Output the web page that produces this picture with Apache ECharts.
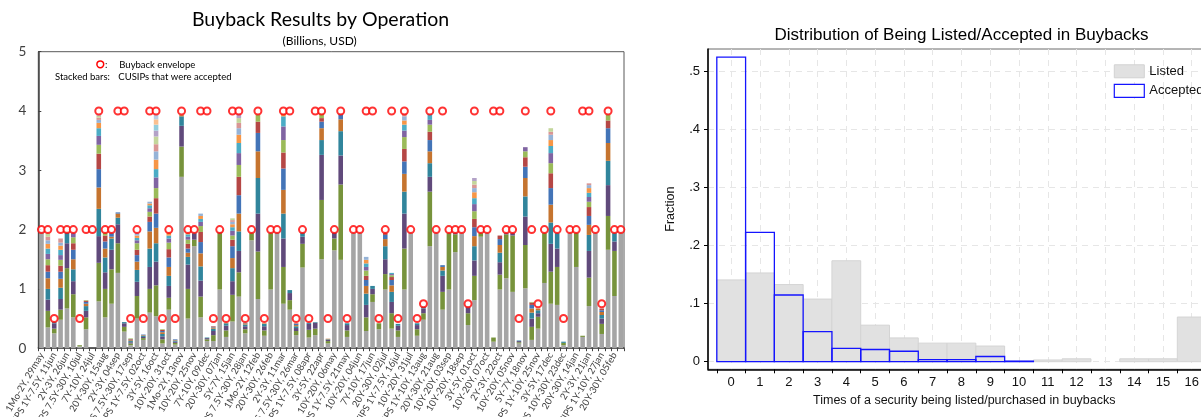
<!DOCTYPE html>
<html><head><meta charset="utf-8">
<script src="https://cdn.jsdelivr.net/npm/echarts@6/dist/echarts.min.js"></script>
<style>html,body{margin:0;padding:0;background:#fff}#c{width:1201px;height:417px}</style>
</head><body><div id="c"></div>
<script>
// ---------- Left chart: Buyback results by operation ----------
const operationLabels = ["1Mo-2Y, 29may","TIPS 1Y-7.5Y, 11jun","2Y-3Y, 26jun","TIPS 7.5Y-30Y, 10jul","7Y-10Y, 24jul","20Y-30Y, 15aug","2Y-3Y, 04sep","TIPS 7.5Y-30Y, 17sep","TIPS 1Y-7.5Y, 02oct","3Y-5Y, 16oct","10Y-20Y, 31oct","1Mo-2Y, 13nov","10Y-20Y, 25nov","7Y-10Y, 09dec","20Y-30Y, 07jan","5Y-7Y, 15jan","TIPS 7.5Y-30Y, 28jan","1Mo-2Y, 12feb","20Y-30Y, 26feb","2Y-3Y, 11mar","TIPS 7.5Y-30Y, 26mar","TIPS 1Y-7.5Y, 08apr","3Y-5Y, 22apr","10Y-20Y, 06may","TIPS 1Y-7.5Y, 21may","10Y-20Y, 04jun","7Y-10Y, 17jun","20Y-30Y, 02jul","TIPS 1Y-7.5Y, 16jul","10Y-20Y, 31jul","TIPS 1Y-10Y, 13aug","20Y-30Y, 21aug","10Y-20Y, 03sep","10Y-20Y, 18sep","3Y-5Y, 01oct","10Y-20Y, 07oct","2Y-3Y, 22oct","10Y-20Y, 05nov","5Y-7Y, 18nov","TIPS 1Y-10Y, 25nov","3Y-5Y, 17dec","TIPS 10Y-30Y, 23dec","20Y-30Y, 14jan","2Y-3Y, 21jan","TIPS 1Y-10Y, 27jan","20Y-30Y, 05feb"];

// Buyback envelope per operation (billions USD)
const envelope = [2,2,.5,2,2,2,.5,2,2,4, 2,2,4,4,.5,2,.5,4,4,.5, 2,.5,4,2,2,4,4,.5,2,.5, 4,4,.5,2,4,.5,2,2,4,4,
  .5,2,.5,4,4,.5,2,4,.5,2, 2,4,4,.5,2,4,.5,4,2,.5, .75,4,2,4,2,2,2,.75,4,2, 2,4,4,2,2,.5,4,2,.75,2, 4,2,.5,2,2,4,4,2,.75,4, 2,2];

// Accepted amounts per CUSIP, stacked from the bottom (billions USD), one list per operation
const acceptedStacks = [
 [1.97],
 [.35,.28,.19,.18,.18,.11,.11,.10,.09,.09,.08,.06,.06,.06],
 [.25,.08,.09,.02],
 [.48,.17,.18,.19,.15,.12,.10,.10,.08,.09,.07,.05,.07],
 [.67,.68,.42,.18,.03],
 [.52,.39,.22,.20,.17,.16,.11,.10,.07],
 [.03,.02],
 [.32,.20,.11,.08,.04,.03,.02,.01],
 [0],
 [.79,.65,.45,.46,.36,.31,.26,.15,.15,.13,.09,.05,.04,.03,.02],
 [.52,.48,.28,.25,.15,.12,.10,.05],
 [.75,.58,.33,.19,.03,.06],
 [1.27,.50,.32,.11,.07,.02],
 [.28,.08,.06,.02],
 [.05,.03,.02,.02,.015,.01,.01,.01],
 [.50,.38,.24,.20,.14,.11,.09,.11,.05,.04,.04,.04],
 [.14,.03,.02,.02,.01,.01],
 [.60,.40,.37,.31,.29,.16,.09,.08,.06,.05,.03,.03],
 [.54,.52,.40,.31,.26,.24,.26,.17,.18,.14,.16,.14,.12,.13,.10,.10,.09,.08],
 [.08,.07,.05,.04,.03,.02,.02,.01],
 [.65,.20,.20,.17,.15,.16,.14,.11,.07,.05,.05],
 [.06,.03,.02,.02,.01,.01],
 [2.89,.51,.35,.16,.02],
 [.50,.50,.41,.13,.07,.07,.08,.07,.05,.04,.02],
 [1.72,.11,.10,.02],
 [.52,.35,.27,.24,.22,.19,.17,.10,.07,.05,.05,.04],
 [.12,.03,.02,.01],
 [.12,.10,.07,.04,.02,.01,.01],
 [.99,.95,.02],
 [.19,.11,.08,.04,.01],
 [.45,.45,.23,.22,.17,.20,.11,.07,.08,.06,.05,.04,.03,.03],
 [.87,.41,.36,.33,.30,.31,.31,.20,.20,.17,.14,.11,.09,.08,.08],
 [.25,.07,.05,.03,.02,.01],
 [1.82,.12],
 [.83,.80,.64,.60,.45,.31,.19,.12],
 [.21,.09,.07,.04,.01],
 [.99,.95],
 [1.95],
 [.75,.62,.48,.42,.40,.36,.27,.21,.23,.17,.04],
 [.65,.16,.12,.05],
 [.22,.07,.05,.03,.02,.02,.01],
 [1.36,.40,.12,.07],
 [.18,.13,.10,.02],
 [.22,.11,.10,.01],
 [1.50,1.00,.76,.25,.20,.11,.06,.08],
 [.08,.04,.02,.01,.01],
 [1.65,.20,.10],
 [1.49,1.27,.49,.41,.20,.08,.02],
 [.19,.11,.09,.03],
 [1.94],
 [1.94],
 [.29,.23,.21,.19,.13,.10,.07,.09,.06,.06,.06,.05],
 [.78,.13,.09,.05],
 [.32,.10],
 [.99,.26,.25,.22,.12,.07,.03],
 [.33,.26,.19,.17,.11,.09,.05,.03,.02,.02],
 [.19,.11,.08,.03],
 [.99,.69,.59,.37,.30,.21,.21,.20,.11,.10,.07,.07,.05],
 [1.94],
 [.21,.11,.07,.03],
 [.48,.11,.08,.03],
 [1.72,.92,.25,.23,.20,.19,.14,.12,.08,.10],
 [1.94],
 [.65,.30,.27,.09,.06,.03],
 [.99,.95],
 [1.62,.30,.02],
 [1.94],
 [.39,.20,.10,.02],
 [.81,.41,.26,.24,.17,.15,.14,.13,.12,.10,.10,.07,.06,.06,.05],
 [1.88,.06],
 [1.94],
 [.11,.07],
 [.99,.25,.21,.16,.13,.10,.06],
 [1.18,.74,.02],
 [.95,.95,.04],
 [.08,.02,.02,.01],
 [1.01,.73,.48,.34,.31,.19,.16,.10,.07],
 [.14,.22,.14,.10,.07,.06,.04,.01],
 [.33,.20,.06,.05,.03],
 [1.10,.84],
 [.75,.54,.47,.36,.30,.28,.25,.17,.17,.12,.10,.09,.05,.06],
 [.73,.64,.31,.26],
 [.05,.04,0,.02],
 [1.94],
 [1.37,.57],
 [.19,.02],
 [.71,.48,.45,.27,.17,.15,.15,.09,.08,.07,.08,.05,.03],
 [1.94],
 [.24,.17,.09,.06,.05,.03,.03],
 [1.66,.57,.52,.41,.30,.25,.13,.10],
 [.88,.76,.16,.14],
 [1.94]
];

const layerColors = ['#A5A5A5','#77933C','#604A7B','#31859C','#C5742F','#4374B7','#B54745','#9BBB59','#8064A2','#4BACC6','#F79646','#95B3D7','#D99694','#C3D69B','#B3A2C7','#93CDDD','#FAC090','#B9CDE5','#E6B9B8','#D7E4BD'];

// ---------- Right chart: histogram ----------
const timesBins = [0,1,2,3,4,5,6,7,8,9,10,11,12,13,14,15,16];
const listedFraction = [.141,.153,.133,.108,.174,.063,.041,.032,.032,.027,.001,.003,.005,0,.005,.005,.077];
const acceptedFraction = [.525,.223,.115,.052,.023,.021,.018,.0035,.0035,.009,.001,0,0,0,0,0,0];
const yTickValues = [0,.1,.2,.3,.4,.5];
const yTickLabels = ['0','.1','.2','.3','.4','.5'];
const xTickLabelsHist = [0,1,2,3,4,5,6,7,8,9,10,11,12,13,14,15,16,17];
const xBinEdges = [-0.5,0.5,1.5,2.5,3.5,4.5,5.5,6.5,7.5,8.5,9.5,10.5,11.5,12.5,13.5,14.5,15.5,16.5];

// ---------- build ----------
const categories = [];
for (let i = 0; i < acceptedStacks.length; i++) categories.push(i % 2 === 0 ? operationLabels[i / 2] : '');

const series = [];
const nLayers = Math.max.apply(null, acceptedStacks.map(s => s.length));
for (let k = 0; k < nLayers; k++) {
  series.push({
    type: 'bar', xAxisIndex: 0, yAxisIndex: 0, stack: 'acc', barCategoryGap: '28%',
    itemStyle: { color: layerColors[k % layerColors.length] }, silent: true,
    data: acceptedStacks.map(s => (s[k] != null ? s[k] : '-'))
  });
}
series.push({
  type: 'scatter', xAxisIndex: 0, yAxisIndex: 0, data: envelope, symbol: 'circle', symbolSize: 7,
  itemStyle: { color: '#ffffff', borderColor: '#FF0000', borderWidth: 2 }, z: 5, silent: true
});

function histRender(style) {
  return function (params, api) {
    const v = api.value(0), f = api.value(1);
    if (!f) return null;
    const p0 = api.coord([v - 0.5, 0]);
    const p1 = api.coord([v + 0.5, f]);
    return { type: 'rect', shape: { x: p0[0], y: p1[1], width: p1[0] - p0[0], height: p0[1] - p1[1] }, style: style };
  };
}
series.push({
  name: 'Listed', type: 'custom', xAxisIndex: 1, yAxisIndex: 1, z: 2, clip: true,
  itemStyle: { color: '#E1E1E1', borderColor: '#D2D2D2', borderWidth: 1 },
  data: timesBins.map((t, i) => [t, listedFraction[i]]), encode: { x: 0, y: 1 },
  renderItem: histRender({ fill: '#E1E1E1', stroke: '#D4D4D4', lineWidth: 1 })
});
series.push({
  name: 'Accepted', type: 'custom', xAxisIndex: 1, yAxisIndex: 1, z: 3, clip: true,
  itemStyle: { color: '#ffffff', borderColor: '#1414FF', borderWidth: 1.2 },
  data: timesBins.map((t, i) => [t, acceptedFraction[i]]), encode: { x: 0, y: 1 },
  renderItem: histRender({ fill: 'none', stroke: '#1414FF', lineWidth: 1.3 })
});

const histMin = -0.806, histMax = 17;
const sansR = 'Liberation Sans, Arial, sans-serif';

const option = {
  animation: false,
  backgroundColor: '#ffffff',
  grid: [
    { left: 38.3, top: 51.7, width: 585.7, height: 296.5, show: true, borderColor: '#595959', borderWidth: 1, containLabel: false, outerBoundsMode: 'none' },
    { left: 708, top: 49, width: 512.5, height: 320.3, show: true, borderColor: '#6b6b6b', borderWidth: 1, containLabel: false, outerBoundsMode: 'none' }
  ],
  xAxis: [
    { type: 'category', gridIndex: 0, data: categories,
      axisLine: { lineStyle: { color: '#404040', width: 1.5 } },
      axisTick: { show: true, interval: 0, length: 3, lineStyle: { color: '#404040' } },
      axisLabel: { interval: 0, rotate: 60, fontSize: 9.5, color: '#404040', fontFamily: 'Lato', margin: 5 },
      splitLine: { show: false } },
    { type: 'value', gridIndex: 1, min: histMin, max: histMax, position: 'bottom',
      axisLine: { show: true, onZero: false, lineStyle: { color: '#000', width: 1.5 } },
      axisTick: { show: true, customValues: xBinEdges, length: 4, lineStyle: { color: '#000' } },
      axisLabel: { show: false }, splitLine: { show: false } },
    { type: 'value', gridIndex: 1, min: histMin, max: histMax, position: 'bottom',
      axisLine: { show: false, onZero: false },
      axisTick: { show: false, customValues: xTickLabelsHist },
      axisLabel: { customValues: xTickLabelsHist, fontSize: 13, color: '#111', margin: 7, fontFamily: sansR },
      splitLine: { show: true, lineStyle: { color: '#E6E6E6', width: 1, type: [6, 5] } },
      name: 'Times of a security being listed/purchased in buybacks', nameLocation: 'middle', nameGap: 21,
      nameTextStyle: { fontSize: 12.5, color: '#111', fontFamily: sansR } }
  ],
  yAxis: [
    { type: 'value', gridIndex: 0, min: 0, max: 5, interval: 1,
      axisLine: { show: true, lineStyle: { color: '#404040', width: 1.5 } },
      axisTick: { show: true, inside: true, length: 3, lineStyle: { color: '#404040' } },
      axisLabel: { fontSize: 13.5, color: '#404040', margin: 12, fontFamily: 'Lato' },
      splitLine: { show: false } },
    { type: 'value', gridIndex: 1, min: -0.0131, max: 0.5391,
      axisLine: { show: true, onZero: false, lineStyle: { color: '#000', width: 1.5 } },
      axisTick: { show: true, customValues: yTickValues, length: 4, lineStyle: { color: '#000' } },
      axisLabel: { customValues: yTickValues, formatter: v => yTickLabels[Math.round(v * 10)], fontSize: 13, color: '#111', margin: 8, fontFamily: sansR },
      splitLine: { show: true, lineStyle: { color: '#E6E6E6', width: 1, type: [6, 5] } },
      name: 'Fraction', nameLocation: 'middle', nameGap: 31, nameRotate: 90,
      nameTextStyle: { fontSize: 12.5, color: '#111', fontFamily: sansR } }
  ],
  legend: {
    orient: 'vertical', left: 1108.7, top: 59.3, itemWidth: 30, itemHeight: 13, itemGap: 5.5, icon: 'rect',
    textStyle: { fontSize: 13, color: '#111', fontFamily: sansR, padding: 0 },
    data: [
      { name: 'Listed', itemStyle: { color: '#E1E1E1', borderColor: '#D2D2D2', borderWidth: 1 } },
      { name: 'Accepted', itemStyle: { color: '#ffffff', borderColor: '#1414FF', borderWidth: 1.2 } }
    ]
  },
  graphic: [
    { type: 'text', x: 320.5, y: 20, style: { text: 'Buyback Results by Operation', fontSize: 19.5, fontFamily: 'Lato', fill: '#000', align: 'center', verticalAlign: 'middle' } },
    { type: 'text', x: 319.7, y: 41.5, style: { text: '(Billions, USD)', fontSize: 12, fontFamily: 'Lato', fill: '#000', align: 'center', verticalAlign: 'middle' } },
    { type: 'circle', shape: { cx: 100.3, cy: 64.3, r: 3.4 }, style: { fill: '#fff', stroke: '#FF0000', lineWidth: 1.5 }, z: 10 },
    { type: 'text', x: 105, y: 64.5, style: { text: ':', fontSize: 9.5, fontFamily: 'Lato', fill: '#000', verticalAlign: 'middle' } },
    { type: 'text', x: 119.3, y: 64.5, style: { text: 'Buyback envelope', fontSize: 9.5, fontFamily: 'Lato', fill: '#000', verticalAlign: 'middle' } },
    { type: 'text', x: 55, y: 77.3, style: { text: 'Stacked bars:', fontSize: 9.5, fontFamily: 'Lato', fill: '#000', verticalAlign: 'middle' } },
    { type: 'text', x: 118.3, y: 77.3, style: { text: 'CUSIPs that were accepted', fontSize: 9.5, fontFamily: 'Lato', fill: '#000', verticalAlign: 'middle' } },
    { type: 'text', x: 961.5, y: 35, style: { text: 'Distribution of Being Listed/Accepted in Buybacks', fontSize: 17, fontFamily: sansR, fill: '#000', align: 'center', verticalAlign: 'middle' } }
  ],
  series: series
};

const chart = echarts.init(document.getElementById('c'), null, { renderer: 'canvas' });
chart.setOption(option);
</script></body></html>
